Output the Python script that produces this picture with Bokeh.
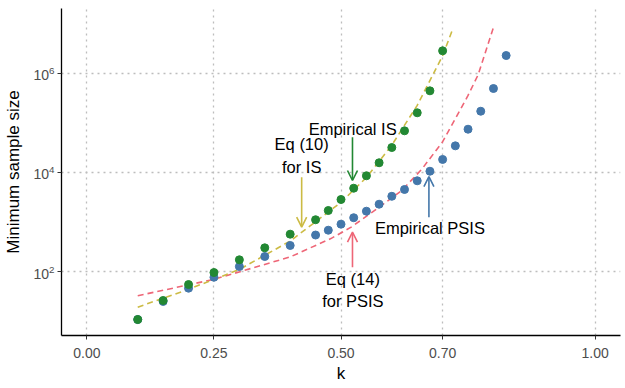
from bokeh.plotting import figure
from bokeh.models import Range1d, FixedTicker, Arrow, OpenHead, Label
from bokeh.embed import file_html
from bokeh.resources import INLINE

# Empirical IS (green points)
k_is = [0.1, 0.15, 0.2, 0.25, 0.3, 0.35, 0.4, 0.45, 0.475, 0.5, 0.525, 0.55,
        0.575, 0.6, 0.625, 0.65, 0.675, 0.7]
n_is = [11, 26.6, 55.7, 97, 175, 305, 574, 1120, 1720, 2860, 4830, 8590,
        15700, 31800, 69000, 159000, 440000, 2810000]

# Empirical PSIS (blue points)
k_psis = [0.1, 0.15, 0.2, 0.25, 0.3, 0.35, 0.4, 0.45, 0.475, 0.5, 0.525, 0.55,
          0.575, 0.6, 0.625, 0.65, 0.675, 0.7, 0.725, 0.75, 0.775, 0.8, 0.825]
n_psis = [11, 25.4, 47, 78, 128, 204, 340, 552, 690, 912, 1230, 1665,
          2300, 3320, 4550, 6810, 10600, 18300, 34400, 74300, 171000, 490000, 2260000]

# Eq (10) for IS (yellow dashed)
k_eq10 = [0.10, 0.20, 0.30, 0.40, 0.50, 0.55, 0.60, 0.65, 0.70, 0.72]
n_eq10 = [19.5, 44.7, 112, 417, 2510, 7940, 35500, 224000, 2240000, 7760000]

# Eq (14) for PSIS (red dashed)
k_eq14 = [0.10, 0.25, 0.40, 0.48, 0.52, 0.575, 0.62, 0.66, 0.70, 0.75, 0.77, 0.80]
n_eq14 = [33.1, 70.8, 200, 468, 794, 2000, 4370, 12000, 41700, 355000, 933000, 8320000]

x_ticks = [0.0, 0.25, 0.5, 0.7, 1.0]
x_tick_labels = ["0.00", "0.25", "0.50", "0.70", "1.00"]
y_ticks = [1e2, 1e4, 1e6]

GREEN = "#228833"
BLUE = "#4477AA"
YELLOW = "#CCBB44"
RED = "#EE6677"
FONT = "Liberation Sans"

p = figure(width=622, height=386, output_backend="svg", toolbar_location=None,
           y_axis_type="log",
           x_range=Range1d(-0.05, 1.05), y_range=Range1d(10 ** 0.72, 10 ** 7.3),
           min_border_left=61, min_border_right=2, min_border_top=8, min_border_bottom=51)
p.outline_line_color = None
p.background_fill_color = "white"
p.border_fill_color = "white"

# axes
p.xaxis.ticker = FixedTicker(ticks=x_ticks)
p.xaxis.major_label_overrides = {t: l for t, l in zip(x_ticks, x_tick_labels)}
p.yaxis.ticker = FixedTicker(ticks=y_ticks)
for ax in (p.xaxis[0], p.yaxis[0]):
    ax.axis_line_color = "black"
    ax.axis_line_width = 1.3
    ax.major_tick_line_color = "#333333"
    ax.major_tick_out = 4
    ax.major_tick_in = 0
    ax.minor_tick_line_color = None
    ax.major_label_text_font = FONT
    ax.major_label_text_font_size = "14px"
    ax.major_label_text_color = "#4D4D4D"
    ax.axis_label_text_font = FONT
    ax.axis_label_text_font_size = "17px"
    ax.axis_label_text_font_style = "normal"
    ax.axis_label_text_color = "black"
p.xaxis.axis_label = "k"
p.yaxis.axis_label = "Minimum sample size"
p.xaxis.major_label_standoff = 8
p.xaxis.axis_label_standoff = 3
p.yaxis.major_label_standoff = 3
p.yaxis.axis_label_standoff = 7

for g in (p.xgrid[0], p.ygrid[0]):
    g.grid_line_color = "#BDBDBD"
    g.grid_line_dash = "2 4"
    g.grid_line_width = 1.3
    g.minor_grid_line_color = None

# dashed curves
p.line(k_eq14, n_eq14, line_color=RED, line_dash="6 4", line_width=1.6)
p.line(k_eq10, n_eq10, line_color=YELLOW, line_dash="6 4", line_width=1.6)

# points
p.scatter(k_psis, n_psis, size=8, color=BLUE)
p.scatter(k_is, n_is, size=8, color=GREEN)

# annotations
def arrow(x, y0, y1, color):
    p.add_layout(Arrow(x_start=x, y_start=y0, x_end=x, y_end=y1,
                       line_color=color, line_width=1.6,
                       end=OpenHead(size=10, line_color=color, line_width=1.6)))

def label(x, y, text):
    p.add_layout(Label(x=x, y=y, text=text, text_align="center", text_baseline="middle",
                       text_font=FONT, text_font_size="16.5px", text_color="black"))

arrow(0.4226, 8035, 794, YELLOW)
arrow(0.5226, 51300, 6900, GREEN)
arrow(0.673, 1260, 8300, BLUE)
arrow(0.5226, 124, 631, RED)

label(0.4226, 37800, "Eq (10)")
label(0.4226, 12800, "for IS")
label(0.523, 75700, "Empirical IS")
label(0.675, 757, "Empirical PSIS")
label(0.5234, 72.6, "Eq (14)")
label(0.5234, 25.4, "for PSIS")

open("out.html", "w").write(file_html(p, INLINE))
